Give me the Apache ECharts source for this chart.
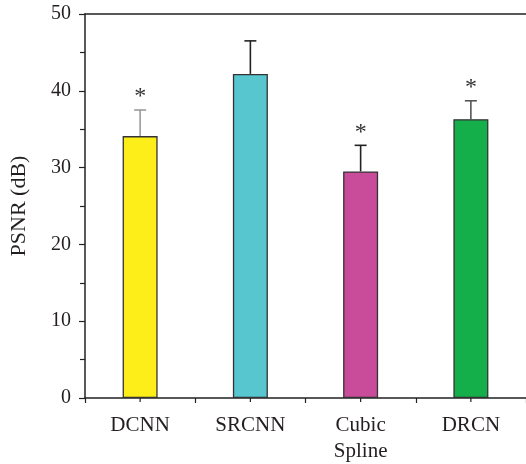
<!DOCTYPE html>
<html>
<head>
<meta charset="utf-8">
<script src="https://cdn.jsdelivr.net/npm/echarts@6/dist/echarts.min.js"></script>
<style>html,body{margin:0;padding:0;background:#fff}#c{width:526px;height:464px}</style>
</head>
<body>
<div id="c"></div>
<script>
const categories = ['DCNN', 'SRCNN', 'Cubic\nSpline', 'DRCN'];
const psnrMean = [34.1, 42.2, 29.5, 36.3];
const psnrErr = [3.4, 4.3, 3.4, 2.4];
const significant = [true, false, true, true];
const yTicks = [0, 10, 20, 30, 40, 50];

const barColors = ['#FDEE1A', '#57C6CF', '#C94C9A', '#14AE4A'];
const errColors = ['#9a9a9a', '#222222', '#222222', '#555555'];
const FONT = '"Liberation Serif", "DejaVu Serif", serif';
const TXT = '#231f20';

const chart = echarts.init(document.getElementById('c'), null, {renderer: 'canvas'});

const errData = psnrMean.map((m, i) => [i, m, psnrErr[i], significant[i] ? 1 : 0]);

chart.setOption({
  animation: false,
  backgroundColor: '#fff',
  grid: {left: 78, right: 0, top: 14, bottom: 59, containLabel: false},
  xAxis: [{
    type: 'category',
    position: 'bottom',
    data: categories,
    boundaryGap: true,
    axisLine: {show: true, lineStyle: {color: '#222', width: 1.5}},
    axisTick: {show: true, alignWithLabel: false, length: 5, lineStyle: {color: '#222', width: 1.2}},
    axisLabel: {fontFamily: FONT, fontSize: 21, color: TXT, margin: 14, lineHeight: 26}
  }, {
    type: 'category',
    position: 'top',
    data: categories,
    axisLine: {show: true, lineStyle: {color: '#222', width: 1.5}},
    axisTick: {show: false},
    axisLabel: {show: false}
  }],
  yAxis: {
    type: 'value',
    min: 0, max: 50, interval: 10,
    name: 'PSNR (dB)',
    nameLocation: 'middle',
    nameGap: 55,
    nameTextStyle: {fontFamily: FONT, fontSize: 22, color: TXT},
    axisLine: {show: true, lineStyle: {color: '#222', width: 1.5}},
    axisTick: {show: true, length: 6, lineStyle: {color: '#222', width: 1.2}},
    minorTick: {show: true, splitNumber: 2, length: 5, lineStyle: {color: '#222', width: 1.2}},
    splitLine: {show: false},
    axisLabel: {fontFamily: FONT, fontSize: 20, color: TXT, margin: 14,
      formatter: v => yTicks.includes(v) ? String(v) : ''}
  },
  series: [{
    type: 'bar',
    data: psnrMean.map((v, i) => ({value: v, itemStyle: {color: barColors[i]}})),
    barWidth: 35,
    itemStyle: {borderColor: '#333', borderWidth: 1.3},
    z: 3
  }, {
    type: 'custom',
    data: errData,
    clip: false,
    z: 2,
    renderItem: function (params, api) {
      const i = api.value(0), m = api.value(1), e = api.value(2), s = api.value(3);
      const base = api.coord([i, m]);
      const top = api.coord([i, m + e]);
      const col = errColors[params.dataIndex];
      const children = [
        {type: 'line', shape: {x1: base[0], y1: base[1], x2: top[0], y2: top[1]}, style: {stroke: col, lineWidth: 1.6}},
        {type: 'line', shape: {x1: top[0] - 6, y1: top[1], x2: top[0] + 6, y2: top[1]}, style: {stroke: col, lineWidth: 1.6}}
      ];
      if (s) {
        children.push({type: 'text', style: {text: '*', x: top[0], y: top[1] - 1, align: 'center', verticalAlign: 'bottom',
          font: '24px ' + FONT, fill: '#333'}});
      }
      const zero = api.coord([i, 0]);
      children.push({type: 'line', shape: {x1: zero[0], y1: zero[1], x2: zero[0], y2: zero[1] + 4}, style: {stroke: '#222', lineWidth: 1.2}});
      return {type: 'group', children: children};
    }
  }]
});
</script>
</body>
</html>
